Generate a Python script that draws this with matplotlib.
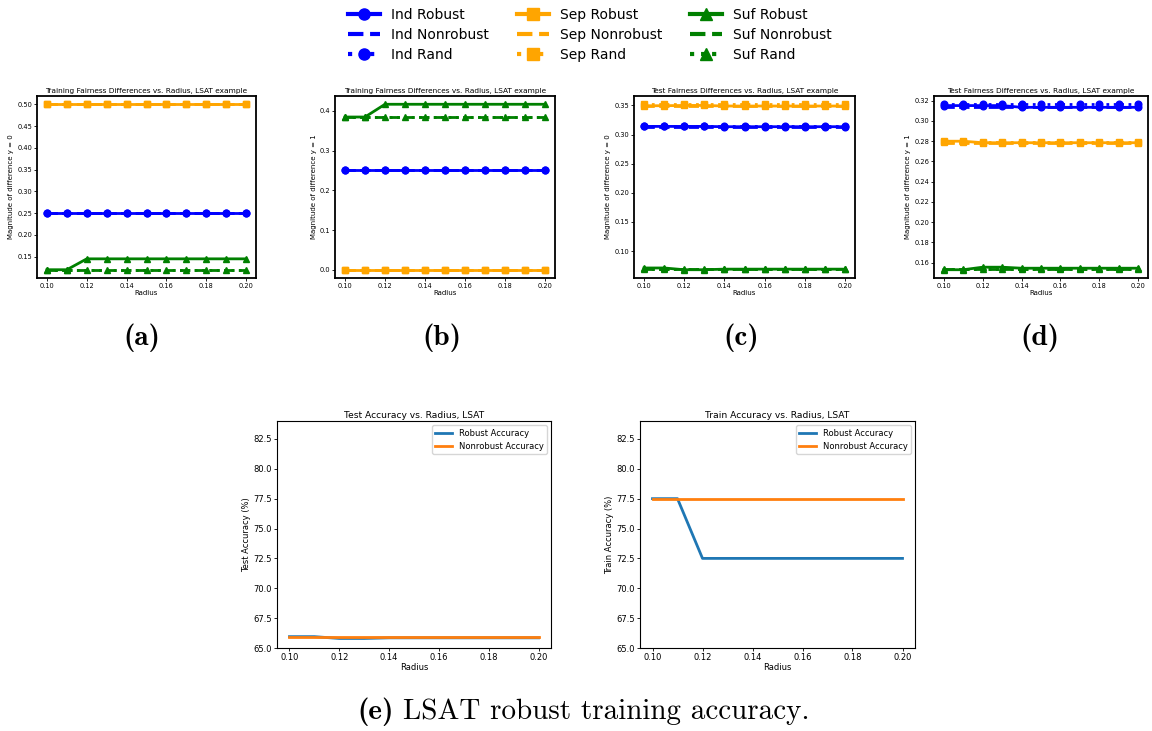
import matplotlib
matplotlib.use("Agg")
import matplotlib.pyplot as plt
from matplotlib.lines import Line2D

W, H = 1152, 731
radius = [0.10, 0.11, 0.12, 0.13, 0.14, 0.15, 0.16, 0.17, 0.18, 0.19, 0.20]

# (a) Training, y = 0
a_ind_rob = [0.25] * 11
a_ind_non = [0.25] * 11
a_ind_rand = [0.25] * 11
a_sep_rob = [0.50] * 11
a_sep_non = [0.50] * 11
a_sep_rand = [0.50] * 11
a_suf_rob = [0.120, 0.120, 0.145, 0.145, 0.145, 0.145, 0.145, 0.145, 0.145, 0.145, 0.145]
a_suf_non = [0.120] * 11
a_suf_rand = [0.120] * 11

# (b) Training, y = 1
b_ind_rob = [0.25] * 11
b_ind_non = [0.25] * 11
b_ind_rand = [0.25] * 11
b_sep_rob = [0.0] * 11
b_sep_non = [0.0] * 11
b_sep_rand = [0.0] * 11
b_suf_rob = [0.3846, 0.3846, 0.4167, 0.4167, 0.4167, 0.4167, 0.4167, 0.4167, 0.4167, 0.4167, 0.4167]
b_suf_non = [0.3846] * 11
b_suf_rand = [0.3846] * 11

# (c) Test, y = 0
c_ind_rob = [0.3140, 0.3140, 0.3140, 0.3140, 0.3135, 0.3135, 0.3135, 0.3135, 0.3135, 0.3135, 0.3135]
c_ind_non = [0.3132] * 11
c_ind_rand = [0.3152] * 11
c_sep_rob = [0.3495, 0.3495, 0.3500, 0.3500, 0.3490, 0.3490, 0.3490, 0.3490, 0.3490, 0.3490, 0.3490]
c_sep_non = [0.3488] * 11
c_sep_rand = [0.3520] * 11
c_suf_rob = [0.0710, 0.0710, 0.0680, 0.0680, 0.0690, 0.0690, 0.0690, 0.0690, 0.0690, 0.0690, 0.0690]
c_suf_non = [0.0700] * 11
c_suf_rand = [0.0700] * 11

# (d) Test, y = 1
d_ind_rob = [0.3152, 0.3152, 0.3152, 0.3152, 0.3135, 0.3135, 0.3135, 0.3135, 0.3135, 0.3135, 0.3135]
d_ind_non = [0.3135] * 11
d_ind_rand = [0.3165] * 11
d_sep_rob = [0.2800, 0.2800, 0.2785, 0.2785, 0.2785, 0.2785, 0.2785, 0.2785, 0.2785, 0.2785, 0.2785]
d_sep_non = [0.2785] * 11
d_sep_rand = [0.2795] * 11
d_suf_rob = [0.1530, 0.1530, 0.1555, 0.1555, 0.1545, 0.1545, 0.1545, 0.1545, 0.1545, 0.1545, 0.1545]
d_suf_non = [0.1535] * 11
d_suf_rand = [0.1535] * 11

# (e) accuracies
test_rob_acc = [65.95, 65.95, 65.80, 65.80, 65.85, 65.85, 65.85, 65.85, 65.85, 65.85, 65.85]
test_non_acc = [65.92] * 11
train_rob_acc = [77.5, 77.5, 72.5, 72.5, 72.5, 72.5, 72.5, 72.5, 72.5, 72.5, 72.5]
train_non_acc = [77.5] * 11

fair_titles = ["Training Fairness Differences vs. Radius, LSAT example",
               "Training Fairness Differences vs. Radius, LSAT example",
               "Test Fairness Differences vs. Radius, LSAT example",
               "Test Fairness Differences vs. Radius, LSAT example"]
fair_ylabels = ["Magnitude of difference y = 0", "Magnitude of difference y = 1",
                "Magnitude of difference y = 0", "Magnitude of difference y = 1"]
captions = ["(a)", "(b)", "(c)", "(d)"]
legend_labels = ["Ind Robust", "Ind Nonrobust", "Ind Rand",
                 "Sep Robust", "Sep Nonrobust", "Sep Rand",
                 "Suf Robust", "Suf Nonrobust", "Suf Rand"]

fair_data = [
    [(a_ind_rob, a_ind_non, a_ind_rand), (a_sep_rob, a_sep_non, a_sep_rand), (a_suf_rob, a_suf_non, a_suf_rand)],
    [(b_ind_rob, b_ind_non, b_ind_rand), (b_sep_rob, b_sep_non, b_sep_rand), (b_suf_rob, b_suf_non, b_suf_rand)],
    [(c_ind_rob, c_ind_non, c_ind_rand), (c_sep_rob, c_sep_non, c_sep_rand), (c_suf_rob, c_suf_non, c_suf_rand)],
    [(d_ind_rob, d_ind_non, d_ind_rand), (d_sep_rob, d_sep_non, d_sep_rand), (d_suf_rob, d_suf_non, d_suf_rand)],
]

colors = ["blue", "orange", "green"]
markers = ["o", "s", "^"]

fig = plt.figure(figsize=(W / 100, H / 100), dpi=100)


def add_ax(l, r, t, b):
    return fig.add_axes([l / W, 1 - b / H, (r - l) / W, (b - t) / H])


fair_boxes = [(37, 256, 96, 278), (335, 555, 96, 278), (634, 855, 96, 278), (934, 1148, 96, 278)]
caption_x = [142, 442, 741, 1040]

for i, box in enumerate(fair_boxes):
    ax = add_ax(*box)
    for g, (rob, non, rnd) in enumerate(fair_data[i]):
        c = colors[g]
        m = markers[g]
        ax.plot(radius, rob, color=c, marker=m, linestyle="-", lw=2.0, ms=4.8)
        ax.plot(radius, non, color=c, linestyle="--", lw=2.0)
        ax.plot(radius, rnd, color=c, marker=m, linestyle=":", lw=2.0, ms=4.8)
    ax.set_title(fair_titles[i], fontsize=5.3, pad=2)
    ax.set_ylabel(fair_ylabels[i], fontsize=5, labelpad=2)
    ax.set_xlabel("Radius", fontsize=5, labelpad=1)
    ax.tick_params(labelsize=4.8, length=2, pad=1.5, width=0.6)
    ax.set_xticks([0.10, 0.12, 0.14, 0.16, 0.18, 0.20])
    for s in ax.spines.values():
        s.set_linewidth(1.3)
    fig.text(caption_x[i] / W, 1 - 338 / H, captions[i], fontsize=21,
             family="cmb10", ha="center", va="center")

# shared legend
handles = []
for g in range(3):
    c = colors[g]
    m = markers[g]
    handles.append(Line2D([], [], color=c, marker=m, linestyle="-", lw=3, ms=8))
    handles.append(Line2D([], [], color=c, linestyle="--", lw=3))
    handles.append(Line2D([], [], color=c, marker=m, linestyle=":", lw=3, ms=8))
fig.legend(handles, legend_labels, ncol=3, loc="center", bbox_to_anchor=(590 / W, 1 - 35 / H),
           fontsize=10, frameon=False, handlelength=2.3, columnspacing=2.0,
           labelspacing=0.45, handletextpad=0.8)

# accuracy plots
acc_boxes = [(277, 551, 421, 648), (640, 915, 421, 648)]
acc_titles = ["Test Accuracy vs. Radius, LSAT", "Train Accuracy vs. Radius, LSAT"]
acc_ylabels = ["Test Accuracy (%)", "Train Accuracy (%)"]
acc_data = [(test_rob_acc, test_non_acc), (train_rob_acc, train_non_acc)]
for i, box in enumerate(acc_boxes):
    ax = add_ax(*box)
    rob, non = acc_data[i]
    ax.plot(radius, rob, color="tab:blue", lw=2, label="Robust Accuracy")
    ax.plot(radius, non, color="tab:orange", lw=2, label="Nonrobust Accuracy")
    ax.set_ylim(65, 84)
    ax.set_yticks([65.0, 67.5, 70.0, 72.5, 75.0, 77.5, 80.0, 82.5])
    ax.set_xticks([0.10, 0.12, 0.14, 0.16, 0.18, 0.20])
    ax.set_title(acc_titles[i], fontsize=6.6, pad=2)
    ax.set_ylabel(acc_ylabels[i], fontsize=6, labelpad=2)
    ax.set_xlabel("Radius", fontsize=6, labelpad=1)
    ax.tick_params(labelsize=6, length=2, pad=1.5, width=0.6)
    ax.legend(loc="upper right", fontsize=6, handlelength=2.0)

fig.text(357 / W, 1 - 712 / H, "(e)", fontsize=21, family="cmb10", ha="left", va="center")
fig.text(403 / W, 1 - 712 / H, "LSAT robust training accuracy.", fontsize=21,
         family="cmr10", ha="left", va="center")

fig.savefig("out.png", dpi=100)
